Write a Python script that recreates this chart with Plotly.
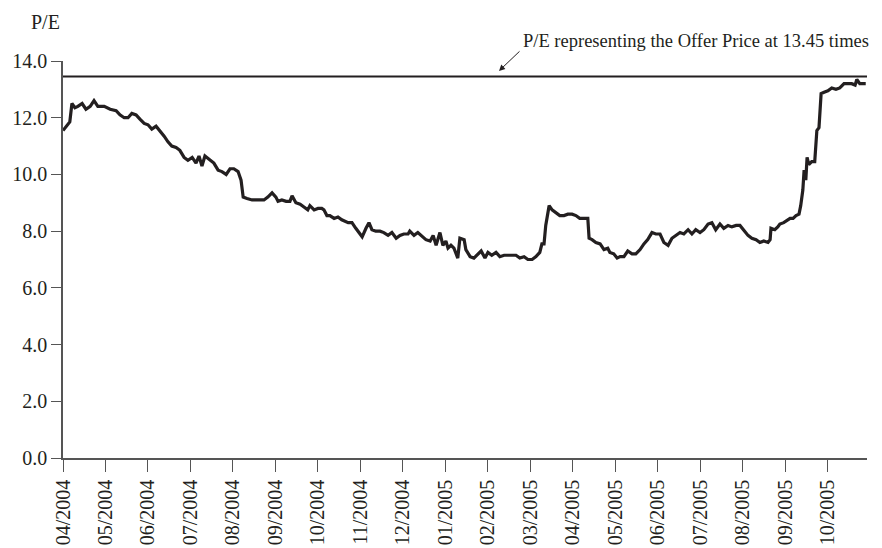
import plotly.graph_objects as go

# Month labels (evenly spaced, one per month starting 04/2004)
month_labels = ["04/2004", "05/2004", "06/2004", "07/2004", "08/2004", "09/2004",
                "10/2004", "11/2004", "12/2004", "01/2005", "02/2005", "03/2005",
                "04/2005", "05/2005", "06/2005", "07/2005", "08/2005", "09/2005",
                "10/2005"]

# Time in months since 04/2004 (fractional) and P/E values
t = [0.00, 0.07, 0.16, 0.21, 0.28, 0.35, 0.45, 0.54, 0.64, 0.73, 0.82, 0.97,
     1.11, 1.25, 1.34, 1.44, 1.53, 1.62, 1.72, 1.81, 1.91, 2.00, 2.09, 2.19,
     2.28, 2.38, 2.47, 2.56, 2.66, 2.75, 2.85, 2.94, 3.04, 3.13, 3.20, 3.27,
     3.34, 3.46, 3.55, 3.65, 3.74, 3.84, 3.93, 4.02, 4.12, 4.19, 4.24, 4.33,
     4.45, 4.59, 4.73, 4.82, 4.92, 5.01, 5.06, 5.15, 5.25, 5.34, 5.39, 5.48,
     5.58, 5.67, 5.76, 5.81, 5.91, 6.00, 6.09, 6.14, 6.21, 6.28, 6.38, 6.47,
     6.56, 6.71, 6.80, 6.89, 6.99, 7.04, 7.13, 7.20, 7.27, 7.36, 7.46, 7.55,
     7.65, 7.74, 7.84, 7.93, 8.02, 8.12, 8.16, 8.26, 8.35, 8.45, 8.54, 8.64,
     8.71, 8.78, 8.87, 8.94, 9.01, 9.06, 9.13, 9.20, 9.29, 9.34, 9.44, 9.48,
     9.58, 9.67, 9.76, 9.84, 9.93, 10.00, 10.09, 10.19, 10.28, 10.38, 10.52,
     10.66, 10.75, 10.85, 10.94, 11.04, 11.13, 11.22, 11.27, 11.32, 11.36,
     11.41, 11.44, 11.51, 11.60, 11.69, 11.79, 11.88, 11.98, 12.07, 12.16,
     12.26, 12.35, 12.38, 12.45, 12.54, 12.64, 12.73, 12.82, 12.87, 12.96,
     13.04, 13.11, 13.20, 13.29, 13.39, 13.48, 13.58, 13.67, 13.76, 13.86,
     13.95, 14.05, 14.14, 14.24, 14.33, 14.42, 14.52, 14.61, 14.71, 14.80,
     14.89, 14.99, 15.08, 15.18, 15.27, 15.36, 15.46, 15.55, 15.65, 15.74,
     15.84, 15.93, 16.02, 16.12, 16.21, 16.31, 16.40, 16.49, 16.59, 16.64,
     16.66, 16.75, 16.82, 16.87, 16.96, 17.06, 17.11, 17.18, 17.25, 17.32,
     17.36, 17.41, 17.44, 17.48, 17.51, 17.55, 17.62, 17.69, 17.74, 17.79,
     17.84, 17.91, 18.00, 18.09, 18.19, 18.28, 18.38, 18.47, 18.56, 18.64,
     18.68, 18.75, 18.85, 18.89]

pe = [11.55, 11.70, 11.85, 12.50, 12.35, 12.40, 12.50, 12.30, 12.40, 12.60, 12.40, 12.40,
      12.30, 12.25, 12.10, 12.00, 12.00, 12.15, 12.10, 11.95, 11.80, 11.75, 11.60, 11.70,
      11.55, 11.35, 11.15, 11.00, 10.95, 10.85, 10.60, 10.50, 10.60, 10.40, 10.65, 10.30,
      10.65, 10.50, 10.40, 10.15, 10.10, 10.00, 10.20, 10.20, 10.10, 9.80, 9.20, 9.15,
      9.10, 9.10, 9.10, 9.20, 9.35, 9.20, 9.05, 9.10, 9.05, 9.05, 9.25, 9.00,
      8.95, 8.85, 8.75, 8.90, 8.75, 8.80, 8.80, 8.75, 8.55, 8.55, 8.45, 8.50,
      8.40, 8.30, 8.30, 8.10, 7.90, 7.80, 8.10, 8.30, 8.05, 8.00, 8.00, 7.95,
      7.85, 7.95, 7.75, 7.85, 7.90, 7.90, 8.00, 7.85, 7.95, 7.80, 7.70, 7.65,
      7.85, 7.50, 7.95, 7.50, 7.65, 7.40, 7.50, 7.40, 7.05, 7.75, 7.70, 7.35,
      7.10, 7.05, 7.20, 7.30, 7.05, 7.25, 7.15, 7.25, 7.10, 7.15, 7.15,
      7.15, 7.05, 7.10, 7.00, 7.00, 7.10, 7.25, 7.55, 7.55, 8.20,
      8.75, 8.90, 8.75, 8.65, 8.55, 8.55, 8.60, 8.60, 8.55, 8.45,
      8.45, 8.45, 7.75, 7.70, 7.60, 7.55, 7.35, 7.40, 7.25, 7.20,
      7.05, 7.10, 7.10, 7.30, 7.20, 7.20, 7.35, 7.55, 7.70, 7.95,
      7.90, 7.90, 7.60, 7.50, 7.75, 7.85, 7.95, 7.90, 8.05, 7.90,
      8.05, 7.95, 8.05, 8.25, 8.30, 8.05, 8.25, 8.10, 8.20, 8.15,
      8.20, 8.20, 8.05, 7.85, 7.75, 7.70, 7.60, 7.65, 7.60, 7.70,
      8.10, 8.05, 8.15, 8.25, 8.30, 8.40, 8.45, 8.45, 8.55, 8.60,
      8.90, 9.45, 10.15, 9.80, 10.60, 10.35, 10.45, 10.45, 11.55, 11.65,
      12.85, 12.90, 12.95, 13.05, 13.00, 13.05, 13.20, 13.20, 13.20, 13.15,
      13.35, 13.20, 13.20, 13.20]

OFFER_PE = 13.45
annotation_text = "P/E representing the Offer Price at 13.45 times"
y_ticks = [0, 2, 4, 6, 8, 10, 12, 14]

FONT = "Liberation Serif"
INK = "#231f20"
AXIS = "#555555"
FS = 20

# plot area size in pixels (used only to place the out-of-plot texts)
W_PLOT, H_PLOT = 804, 397

fig = go.Figure()
fig.add_trace(go.Scatter(x=t, y=pe, mode="lines",
                         line=dict(color=INK, width=3.2), showlegend=False,
                         hoverinfo="skip"))

fig.add_shape(type="line", xref="x domain", x0=0, x1=1, yref="y",
              y0=OFFER_PE, y1=OFFER_PE, line=dict(color=INK, width=2))

# Label text (above plot area)
fig.add_annotation(x=(521 - 63) / W_PLOT, y=(458 - 41) / H_PLOT,
                   xref="x domain", yref="y domain", text=annotation_text,
                   showarrow=False, xanchor="left", yanchor="middle",
                   font=dict(family=FONT, size=18.5, color=INK))
# Arrow pointing to offer line
fig.add_annotation(x=10.26, y=13.65, xref="x", yref="y", text="",
                   showarrow=True, ax=22, ay=-21, arrowhead=2, arrowsize=1.2,
                   arrowwidth=1, arrowcolor=INK)
# Y axis title "P/E"
fig.add_annotation(x=(29 - 63) / W_PLOT, y=(458 - 22) / H_PLOT,
                   xref="x domain", yref="y domain", text="P/E",
                   showarrow=False, xanchor="left", yanchor="middle",
                   font=dict(family=FONT, size=FS, color=INK))

fig.update_xaxes(range=[0, 18.92], tickmode="array",
                 tickvals=list(range(len(month_labels))), ticktext=month_labels,
                 tickangle=-90, ticks="outside", ticklen=12, tickwidth=1.2,
                 tickcolor=AXIS, showline=True, linecolor=AXIS, linewidth=1.5,
                 showgrid=False, zeroline=False, automargin=False,
                 tickfont=dict(family=FONT, size=FS, color=INK))
fig.update_yaxes(range=[0, 14], tickmode="array", tickvals=y_ticks,
                 ticktext=[f"{v:.1f}" for v in y_ticks],
                 ticks="outside", ticklen=10, tickwidth=1.2, tickcolor=AXIS,
                 showline=True, linecolor=AXIS, linewidth=1.5,
                 showgrid=False, zeroline=False, automargin=False,
                 tickfont=dict(family=FONT, size=FS, color=INK))

# The page body has an 8px margin, so the figure is 8px smaller and margins shifted.
fig.update_layout(width=874, height=540,
                  margin=dict(l=55, r=15, t=53, b=90, autoexpand=False),
                  paper_bgcolor="white", plot_bgcolor="white",
                  font=dict(family=FONT, size=FS, color=INK))

fig.write_html("out.html")
